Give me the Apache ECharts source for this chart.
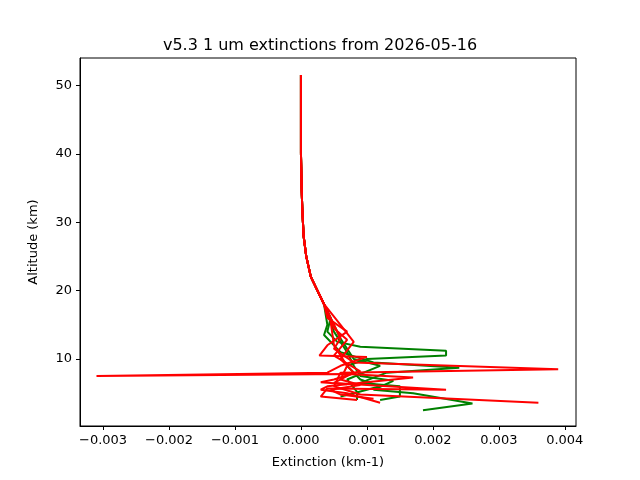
<!DOCTYPE html>
<html>
<head>
<meta charset="utf-8">
<script src="https://cdn.jsdelivr.net/npm/echarts@6/dist/echarts.min.js"></script>
<style>html,body{margin:0;padding:0;background:#fff}#main{width:640px;height:480px}</style>
</head>
<body>
<div id="main"></div>
<script>
// upper stratosphere part, shared shape [extinction, altitude]
const upper = [[0, 51.5], [0, 45], [0, 40], [0.00001, 35], [0.00002, 32], [0.00004, 28], [0.00008, 25], [0.00015, 22], [0.00025, 20], [0.00035, 18]];

const greenProfiles = [
  [[0.00045, 16], [0.0004, 14], [0.00055, 12.5], [0.0009, 11.8], [0.0022, 11.2], [0.0022, 10.5], [0.001, 10], [0.0007, 9], [0.0009, 7], [0.0012, 6], [0.0008, 5], [0.0006, 4.5]],
  [[0.0004, 15], [0.00035, 13.5], [0.0006, 11], [0.0011, 9.5], [0.0024, 8.7], [0.0013, 8], [0.0009, 6.5], [0.0015, 6], [0.0015, 4.5], [0.0012, 4]],
  [[0.0005, 14], [0.0007, 11], [0.0008, 9], [0.0009, 7.5], [0.0014, 6.8], [0.0011, 5.5], [0.0017, 5], [0.0026, 3.5], [0.00185, 2.5]],
  [[0.0006, 13], [0.0008, 10], [0.0012, 9], [0.0007, 7], [0.00085, 5.2], [0.00085, 4]]
];

const redProfiles = [
  [[0.0005, 15], [0.0006, 13], [0.0005, 11.5], [0.0008, 9.5], [0.0039, 8.5], [0.0006, 8], [0.0005, 6], [0.0009, 4.8], [0.0036, 3.6]],
  [[0.0004, 16], [0.0007, 14], [0.0004, 12], [0.00028, 10.5], [0.001, 10.3], [0.0006, 9], [0.0004, 8], [-0.0031, 7.5], [0.0007, 7.8], [0.0017, 7.3], [0.0004, 6], [0.0003, 5.5], [0.0007, 5], [0.0012, 3.6]],
  [[0.0006, 15], [0.0008, 12.5], [0.0006, 10], [0.0008, 8], [0.0005, 6.5], [0.0022, 5.5], [0.0004, 5.7], [0.0003, 4.5], [0.00085, 4]],
  [[0.00045, 15.5], [0.0005, 12], [0.0007, 9], [0.0006, 7], [0.0009, 6.2], [0.00045, 5.5], [0.0006, 4.8], [0.0011, 4.2]],
  [[0.0005, 14.5], [0.0007, 12.8], [0.0005, 10.5], [0.0009, 8.2], [0.0005, 7], [0.0003, 6.6], [0.0007, 6.3]]
];

const xTicks = [-0.003, -0.002, -0.001, 0, 0.001, 0.002, 0.003, 0.004];
const yTicks = [10, 20, 30, 40, 50];

const fmtX = v => (v < 0 ? '\u2212' : '') + Math.abs(v).toFixed(3);

const mk = (prof, color) => ({
  type: 'line', data: upper.concat(prof), showSymbol: false, silent: true,
  lineStyle: { color: color, width: 2 }, animation: false
});

const chart = echarts.init(document.getElementById('main'));
chart.setOption({
  animation: false,
  title: { text: 'v5.3 1 um extinctions from 2026-05-16', left: 'center', top: 33,
    textStyle: { fontFamily: 'DejaVu Sans', fontSize: 16, fontWeight: 'normal', color: '#000' } },
  grid: { left: 80, right: 64, top: 58, bottom: 54 },
  xAxis: {
    type: 'value', min: -0.00335, max: 0.00417,
    name: 'Extinction (km-1)', nameLocation: 'middle', nameGap: 30,
    nameTextStyle: { fontFamily: 'DejaVu Sans', fontSize: 13, color: '#000' },
    axisLine: { onZero: false, lineStyle: { color: '#000' } },
    axisTick: { show: true, length: 4, customValues: xTicks, lineStyle: { color: '#000' } },
    axisLabel: { customValues: xTicks, formatter: fmtX, fontFamily: 'DejaVu Sans', fontSize: 13, color: '#000', margin: 8 },
    splitLine: { show: false }
  },
  yAxis: {
    type: 'value', min: 0.2, max: 54,
    name: 'Altitude (km)', nameLocation: 'middle', nameGap: 40,
    nameTextStyle: { fontFamily: 'DejaVu Sans', fontSize: 13, color: '#000' },
    axisLine: { show: true, onZero: false, lineStyle: { color: '#000' } },
    axisTick: { show: true, length: 4, customValues: yTicks, lineStyle: { color: '#000' } },
    axisLabel: { customValues: yTicks, fontFamily: 'DejaVu Sans', fontSize: 13, color: '#000', margin: 8 },
    splitLine: { show: false }
  },
  graphic: [{ type: 'rect', shape: { x: 80, y: 58, width: 496, height: 368 },
    style: { fill: null, stroke: '#000', lineWidth: 1 }, silent: true }],
  series: greenProfiles.map(p => mk(p, '#008000')).concat(redProfiles.map(p => mk(p, '#ff0000')))
});
</script>
</body>
</html>
